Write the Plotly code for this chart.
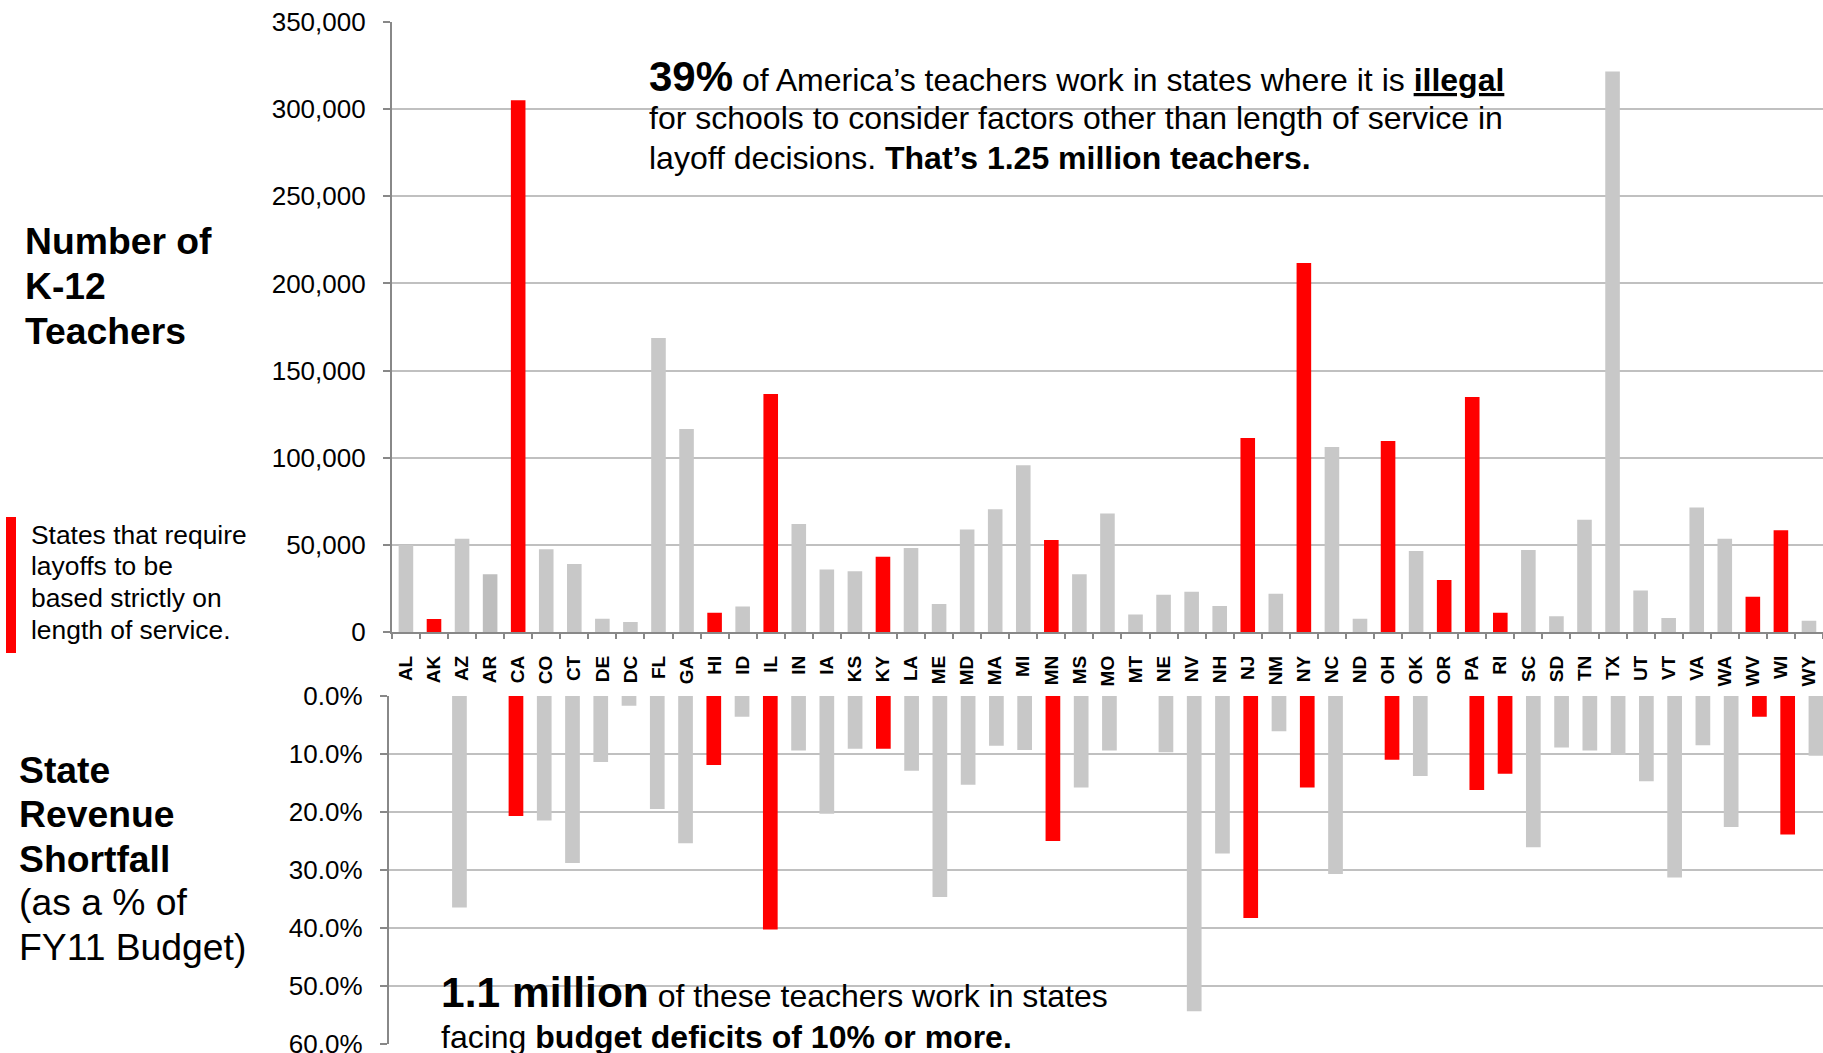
import plotly.graph_objects as go

# ---------------- data ----------------
states = ["AL","AK","AZ","AR","CA","CO","CT","DE","DC","FL","GA","HI","ID","IL","IN","IA","KS",
          "KY","LA","ME","MD","MA","MI","MN","MS","MO","MT","NE","NV","NH","NJ","NM","NY","NC",
          "ND","OH","OK","OR","PA","RI","SC","SD","TN","TX","UT","VT","VA","WA","WV","WI","WY"]
teachers = [50000, 7500, 53600, 33300, 305100, 47600, 39100, 7700, 5800, 168700, 116600, 11100,
            14700, 136600, 62000, 36000, 35000, 43200, 48300, 16200, 58900, 70500, 95800, 52900,
            33300, 68100, 10100, 21500, 23200, 15000, 111300, 22000, 211700, 106200, 7700, 109600,
            46600, 29900, 134900, 11100, 47100, 9200, 64500, 321500, 23900, 8200, 71500, 53600,
            20300, 58400, 6500]
shortfall_pct = [0, 0, 36.5, 0, 20.7, 21.5, 28.8, 11.4, 1.7, 19.5, 25.4, 11.9, 3.6, 40.3, 9.4, 20.3,
                 9.1, 9.1, 12.9, 34.7, 15.3, 8.6, 9.3, 25.0, 15.8, 9.4, 0, 9.7, 54.4, 27.2, 38.3,
                 6.1, 15.8, 30.7, 0, 11.0, 13.8, 0, 16.2, 13.4, 26.1, 8.9, 9.4, 10.2, 14.7, 31.3,
                 8.5, 22.6, 3.6, 23.9, 10.3]
seniority_only = ["AK","CA","HI","IL","KY","MN","NJ","NY","OH","OR","PA","RI","WV","WI"]
top_ticks = [0, 50000, 100000, 150000, 200000, 250000, 300000, 350000]
bottom_ticks = [0, 10, 20, 30, 40, 50, 60]

# ---------------- style ----------------
W, H = 1823, 1053
FONT = "Liberation Sans, Arial, Helvetica, sans-serif"
RED = "#FF0000"
GRAY = "#C8C8C8"
GRID = "#C0C0C0"
AXIS = "#888888"

colors = [RED if s in seniority_only else ("#BEBEBE" if s == "AR" else GRAY) for s in states]

fig = go.Figure()
fig.add_trace(go.Bar(x=states, y=teachers, marker=dict(color=colors, line=dict(width=0)),
                     xaxis="x", yaxis="y", showlegend=False))
fig.add_trace(go.Bar(x=states, y=shortfall_pct, marker=dict(color=colors, line=dict(width=0)),
                     xaxis="x2", yaxis="y2", showlegend=False))

def px_x(v):
    return v / W

def px_y(v):
    return 1 - v / H

top_left = 391.9
bot_left = 388.8
bot_span = (W - bot_left) / 28.26

fig.update_layout(
    width=W, height=H,
    margin=dict(l=0, r=0, t=0, b=0),
    template="none",
    paper_bgcolor="white", plot_bgcolor="white",
    font=dict(family=FONT, color="black"),
    bargap=0.48,
    xaxis=dict(
        domain=[px_x(top_left), 1], type="category", range=[-0.5, 50.5],
        showline=True, linecolor=AXIS, linewidth=2,
        ticks="outside", tickson="boundaries", ticklen=5, tickwidth=1.5, tickcolor=AXIS,
        tickangle=-90, tickfont=dict(size=19, family=FONT, color="black", weight="bold"),
        ticklabelstandoff=14, showgrid=False, anchor="y",
    ),
    yaxis=dict(
        domain=[px_y(632.2), px_y(21.9)], range=[0, 350000],
        tickvals=top_ticks, ticktext=[f"{v:,d}" for v in top_ticks],
        showgrid=True, gridcolor=GRID, gridwidth=2, zeroline=False,
        showline=True, linecolor=AXIS, linewidth=2,
        ticks="outside", ticklen=7, tickwidth=1.5, tickcolor=AXIS,
        tickfont=dict(size=26, family=FONT, color="black"),
        ticklabelstandoff=12, ticklabeloverflow="allow", anchor="x",
    ),
    xaxis2=dict(
        domain=[px_x(bot_left), 1], type="category", range=[-0.5, -0.5 + bot_span],
        showticklabels=False, showline=False, showgrid=False, ticks="", anchor="y2",
    ),
    yaxis2=dict(
        domain=[px_y(1043.7), px_y(696.0)], range=[60, 0],
        tickvals=bottom_ticks, ticktext=[f"{v:.1f}%" for v in bottom_ticks],
        showgrid=True, gridcolor=GRID, gridwidth=2, zeroline=False,
        showline=True, linecolor=AXIS, linewidth=2,
        ticks="outside", ticklen=7, tickwidth=1.5, tickcolor=AXIS,
        tickfont=dict(size=26, family=FONT, color="black"),
        ticklabelstandoff=12, ticklabeloverflow="allow", anchor="x2",
    ),
)

# white boxes behind the call-out texts
fig.add_shape(type="rect", xref="paper", yref="paper",
              x0=px_x(629), x1=px_x(1543), y0=px_y(185), y1=px_y(45),
              fillcolor="white", line=dict(width=0), layer="between")
fig.add_shape(type="rect", xref="paper", yref="paper",
              x0=px_x(421), x1=px_x(1143), y0=px_y(1053), y1=px_y(945),
              fillcolor="white", line=dict(width=0), layer="between")
# legend swatch
fig.add_shape(type="rect", xref="paper", yref="paper",
              x0=px_x(6), x1=px_x(16), y0=px_y(653), y1=px_y(517),
              fillcolor=RED, line=dict(width=0), layer="above")


def add_line(text, x_px, base_px, size, big=None):
    s = big if big else size
    top = base_px - 0.905 * s
    fig.add_annotation(xref="paper", yref="paper", x=px_x(x_px), y=px_y(top),
                       xanchor="left", yanchor="top", text=text, showarrow=False,
                       borderpad=0, align="left",
                       font=dict(size=size, family=FONT, color="black"))

# left titles
add_line("<b>Number of</b>", 24, 252.5, 37.3)
add_line("<b>K-12</b>", 24, 297.5, 37.3)
add_line("<b>Teachers</b>", 24, 342.5, 37.3)

add_line("States that require", 30, 542.8, 26.4)
add_line("layoffs to be", 30, 574.3, 26.4)
add_line("based strictly on", 30, 605.9, 26.4)
add_line("length of service.", 30, 637.4, 26.4)

add_line("<b>State</b>", 18, 782, 37.3)
add_line("<b>Revenue</b>", 18, 826, 37.3)
add_line("<b>Shortfall</b>", 18, 870.5, 37.3)
add_line("(as a % of", 18, 914, 37.3)
add_line("FY11 Budget)", 18, 959, 37.3)

# call-out texts
add_line("<span style='font-size:42px'><b>39%</b></span> of America\u2019s teachers work in states where it is <b><u>illegal</u></b>",
         648, 89.6, 32, big=42)
add_line("for schools to consider factors other than length of service in", 648, 128.4, 32)
add_line("layoff decisions. <b>That\u2019s 1.25 million teachers.</b>", 648, 167.5, 32)

add_line("<span style='font-size:42.5px'><b>1.1 million</b></span> of these teachers work in states",
         440, 1006, 32, big=42.5)
add_line("facing <b>budget deficits of 10% or more.</b>", 440, 1046.7, 32)

fig.write_html("out.html", config={"displayModeBar": False},
               post_script="document.body.style.margin='0';document.body.style.overflow='hidden';")
